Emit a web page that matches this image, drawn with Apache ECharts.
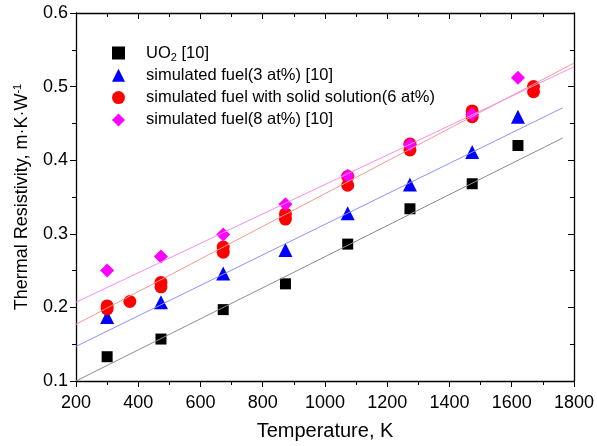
<!DOCTYPE html>
<html>
<head>
<meta charset="utf-8">
<script src="https://cdn.jsdelivr.net/npm/echarts@6/dist/echarts.min.js"></script>
<style>html,body{margin:0;padding:0;background:#fff;}#c{width:597px;height:446px;}</style>
</head>
<body>
<div id="c"></div>
<script>
// Data
const uo2 = [[300,0.133],[473,0.157],[673,0.197],[873,0.232],[1073,0.286],[1273,0.334],[1473,0.368],[1620,0.420]];
const sim3 = [[300,0.187],[473,0.207],[673,0.246],[873,0.278],[1073,0.328],[1273,0.367],[1473,0.411],[1620,0.459]];
const sim6 = [[300,0.198],[300,0.202],[373,0.208],[473,0.228],[473,0.234],[673,0.275],[673,0.282],[873,0.320],[873,0.327],[1073,0.366],[1073,0.378],[1273,0.414],[1273,0.422],[1473,0.459],[1473,0.467],[1670,0.493],[1670,0.500]];
const sim8 = [[300,0.250],[473,0.269],[673,0.299],[873,0.340],[1073,0.379],[1273,0.421],[1473,0.462],[1620,0.512]];
// fit lines (endpoints)
const fitUo2 = [[200,0.100],[1763,0.430]];
const fitSim3 = [[200,0.147],[1763,0.471]];
const fitSim6 = [[200,0.177],[1800,0.532]];
const fitSim8 = [[200,0.207],[1800,0.527]];
const names = ['UO{sub|2} [10]','simulated fuel(3 at%) [10]','simulated fuel with solid solution(6 at%)','simulated fuel(8 at%) [10]'];
const xTicks = {min:200, max:1800, step:200};
const yTicks = {min:0.1, max:0.6, step:0.1};

const font = '"Liberation Sans", Arial, sans-serif';
const chart = echarts.init(document.getElementById('c'), null, {renderer:'canvas'});
const minor = {show:true, splitNumber:2, length:4, lineStyle:{color:'#000', width:1}};
const line = {show:true, onZero:false, lineStyle:{color:'#000', width:1.3}};
chart.setOption({
  animation:false,
  backgroundColor:'#fff',
  grid:{left:76, right:23, top:13, bottom:64},
  legend:{
    data:names, orient:'vertical', left:107, top:38, itemGap:2.3,
    itemWidth:13, itemHeight:13,
    textStyle:{fontFamily:font, fontSize:16.5, color:'#000', lineHeight:20, padding:[0,0,0,16],
      rich:{sub:{fontSize:11, verticalAlign:'bottom', lineHeight:20, padding:[9,0,0,0], fontFamily:font, color:'#000'}}},
    selectedMode:false
  },
  xAxis:[
    {type:'value', min:xTicks.min, max:xTicks.max, interval:xTicks.step, position:'bottom',
      axisLine:line, splitLine:{show:false}, minorTick:minor,
      axisTick:{show:true, inside:false, length:6, lineStyle:{color:'#000'}},
      axisLabel:{fontFamily:font, fontSize:18, color:'#000', margin:13, formatter:v=>String(v)},
      name:'Temperature, K', nameLocation:'middle', nameGap:40,
      nameTextStyle:{fontFamily:font, fontSize:20, color:'#000'}},
    {type:'value', min:xTicks.min, max:xTicks.max, interval:xTicks.step, position:'top',
      axisLine:line, splitLine:{show:false}, minorTick:Object.assign({}, minor),
      axisTick:{show:true, inside:true, length:6, lineStyle:{color:'#000'}},
      axisLabel:{show:false}}
  ],
  yAxis:[
    {type:'value', min:yTicks.min, max:yTicks.max, interval:yTicks.step, position:'left',
      axisLine:line, splitLine:{show:false}, minorTick:minor,
      axisTick:{show:true, inside:false, length:6, lineStyle:{color:'#000'}},
      axisLabel:{fontFamily:font, fontSize:18, color:'#000', margin:8, formatter:v=>v.toFixed(1)},
      name:'Thermal Resistivity, m·K·W{sup|-1}', nameLocation:'middle', nameGap:43, nameRotate:90,
      nameTextStyle:{fontFamily:font, fontSize:18, color:'#000',
        rich:{sup:{fontSize:11, verticalAlign:'top', padding:[0,0,10,0], fontFamily:font, color:'#000'}}}},
    {type:'value', min:yTicks.min, max:yTicks.max, interval:yTicks.step, position:'right',
      axisLine:line, splitLine:{show:false}, minorTick:Object.assign({}, minor),
      axisTick:{show:true, inside:true, length:6, lineStyle:{color:'#000'}},
      axisLabel:{show:false}}
  ],
  series:[
    {type:'line', data:fitUo2, symbol:'none', lineStyle:{color:'#8c8c8c', width:1}, silent:true},
    {type:'line', data:fitSim3, symbol:'none', lineStyle:{color:'#8f8fff', width:1}, silent:true},
    {type:'line', data:fitSim6, symbol:'none', lineStyle:{color:'#f59a8a', width:1}, silent:true},
    {type:'line', data:fitSim8, symbol:'none', lineStyle:{color:'#f38ef3', width:1}, silent:true},
    {name:names[0], type:'scatter', data:uo2, symbol:'rect', symbolSize:11, itemStyle:{color:'#000', opacity:1}},
    {name:names[1], type:'scatter', data:sim3, symbol:'triangle', symbolSize:14, itemStyle:{color:'#0000ff', opacity:1}},
    {name:names[2], type:'scatter', data:sim6, symbol:'circle', symbolSize:13, itemStyle:{color:'#ff0000', opacity:1}},
    {name:names[3], type:'scatter', data:sim8, symbol:'diamond', symbolSize:14, itemStyle:{color:'#ff00ff', opacity:1}}
  ]
});
</script>
</body>
</html>
